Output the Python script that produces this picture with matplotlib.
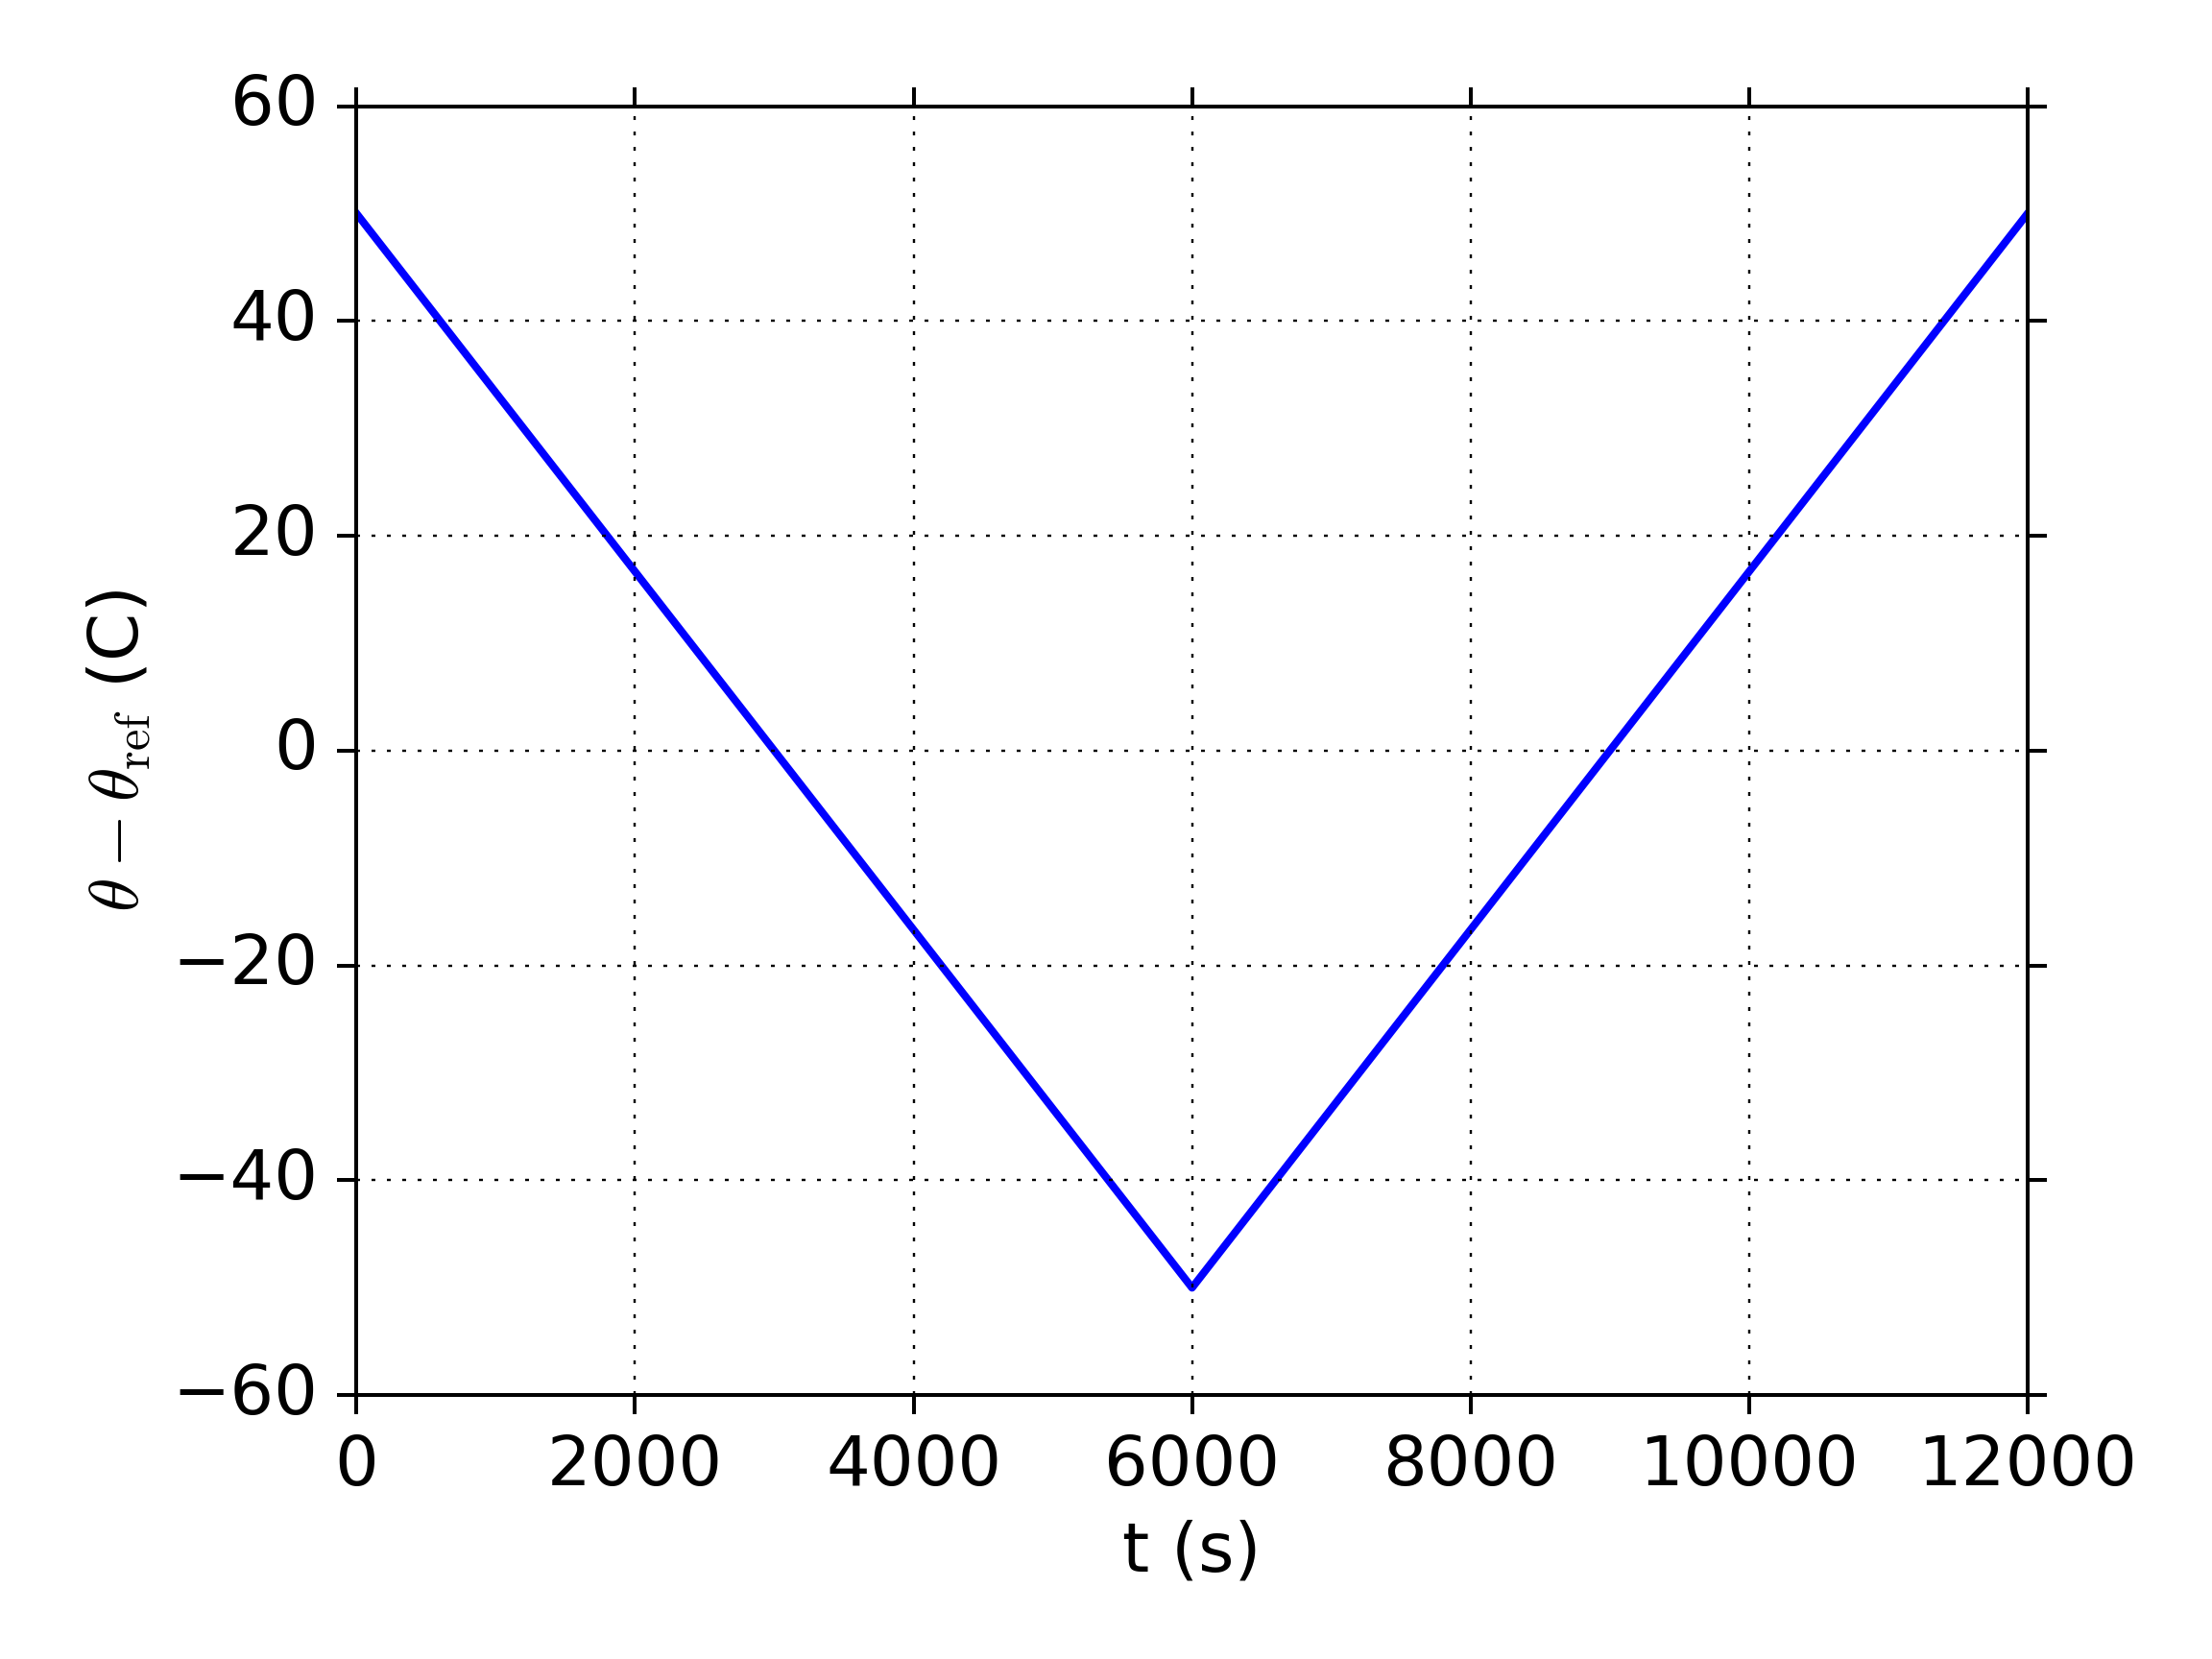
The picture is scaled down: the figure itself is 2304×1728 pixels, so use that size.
import matplotlib
matplotlib.use("Agg")
import matplotlib.pyplot as plt

# temperature offset over one heating/cooling cycle
t_s = [0, 6000, 12000]
dtheta_C = [50, -50, 50]

plt.style.use("classic")
plt.rcParams["font.size"] = 18
plt.rcParams["mathtext.fontset"] = "cm"

fig = plt.figure(figsize=(8, 6), facecolor="white")
ax = fig.add_axes([0.1612, 0.159, 0.7554, 0.777])
ax.plot(t_s, dtheta_C, color="b", lw=2)
ax.set_xlim(0, 12000)
ax.set_ylim(-60, 60)
ax.set_xticks(range(0, 12001, 2000))
ax.set_yticks(range(-60, 61, 20))
ax.tick_params(direction="out", length=5, width=1, labelsize=18, pad=5)
ax.grid(True, color="k", linestyle=":", linewidth=0.6)
ax.set_xlabel("t (s)", fontsize=18)
ax.set_ylabel(r"$\theta - \theta_{\rm ref}$ (C)", fontsize=18)

fig.savefig("out.png", dpi=288, facecolor="white")
